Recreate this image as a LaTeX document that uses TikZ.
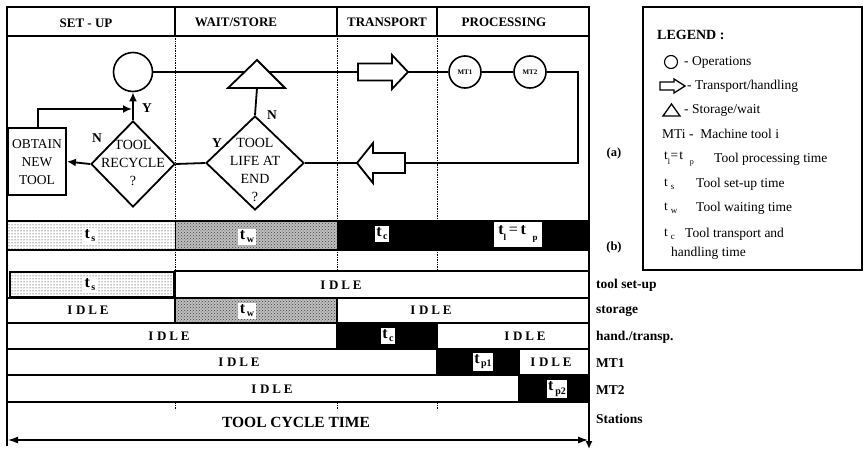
\documentclass[tikz,border=0pt]{standalone}
\usepackage{fontspec}
\setmainfont{Liberation Serif}
\usetikzlibrary{arrows.meta,patterns,shapes.geometric}

% "t" with a lowered bold index
\newcommand\tsb[1]{{\fontsize{16}{16}\selectfont\bfseries t}\kern1.5pt\raisebox{-3pt}{\fontsize{10}{10}\selectfont\bfseries #1}}
\newcommand\tlg[1]{t\kern3pt\raisebox{-3pt}{\fontsize{9}{9}\selectfont #1}}
% spaced IDLE label
\newcommand\idl{I\hspace{0.28em}D\hspace{0.22em}L\hspace{0.22em}E}

\begin{document}
\begin{tikzpicture}[x=1pt,y=-1pt,
  frame/.style={line width=1.6pt},
  flow/.style={line width=1.8pt},
  guide/.style={densely dotted,line width=0.7pt},
  hdr/.style={font=\fontsize{13}{15}\selectfont\bfseries},
  fctext/.style={font=\fontsize{14}{18}\selectfont,align=center,inner sep=0},
  yn/.style={font=\fontsize{13.5}{14}\selectfont\bfseries,inner sep=0},
  barbox/.style={draw,line width=1.5pt},
  idlebox/.style={draw,fill=white,line width=1.5pt},
  lightdots/.style={pattern=dots,pattern color=black},
  idle/.style={font=\fontsize{13}{14}\selectfont\bfseries,inner sep=0},
  tag/.style={fill=white,inner sep=1.5pt},
  rowlab/.style={font=\fontsize{13.5}{15}\selectfont\bfseries,anchor=west,inner sep=0},
  legtext/.style={font=\fontsize{13.5}{15}\selectfont,anchor=west,inner sep=0},
  mt/.style={circle,draw,fill=white,line width=1.6pt,minimum size=32pt,inner sep=0,font=\fontsize{7}{8}\selectfont\bfseries}
]
\useasboundingbox (0,0) rectangle (868,450);
\fill[white] (0,0) rectangle (868,450);

% ---------- column guides ----------
\foreach \gx in {175,337,437}
  \draw[guide] (\gx,36) -- (\gx,410);

% ---------- header ----------
\draw[frame] (7,7) rectangle (589,36);
\foreach \gx in {175,337,437}
  \draw[frame] (\gx,7) -- (\gx,36);
\node[hdr] (hsetup) at (86,23) {SET - UP};
\node[hdr] (hwait) at (236,22) {WAIT/STORE};
\node[hdr] (htrans) at (387,22) {TRANSPORT};
\node[hdr] (hproc) at (504,22) {PROCESSING};

% ---------- outer frame and cycle arrow ----------
\draw[frame] (7,36) -- (7,446);
\draw[frame,-{Latex[length=8pt,width=7pt]}] (589,36) -- (589,449);
\coordinate (cl) at (8,440);
\coordinate (cr) at (588,440);
\draw[line width=1.2pt,{Latex[length=10pt,width=7pt]}-{Latex[length=10pt,width=7pt]}] (cl) -- (cr);

% ---------- flow chart ----------
\node[circle,draw,fill=white,line width=1.6pt,minimum size=39pt,inner sep=0] (op) at (133,72) {};
\node[mt] (mt1) at (465,72) {MT1};
\node[mt] (mt2) at (530,72) {MT2};
\node[diamond,draw,line width=1.8pt,minimum width=84pt,minimum height=86pt,inner sep=0] (rec) at (133,164) {};
\node[diamond,draw,line width=1.8pt,minimum width=98pt,minimum height=94pt,inner sep=0] (life) at (255,163) {};
\node[draw,line width=1.8pt,minimum width=58pt,minimum height=67pt,inner sep=0] (obt) at (37,161.5) {};

\coordinate (triB) at (257,88);
\coordinate (fwdW) at (358,72);
\coordinate (fwdE) at (408,72);
\coordinate (bkW) at (357,163);
\coordinate (bkE) at (405,163);
\coordinate (lp1) at (578,72);
\coordinate (lp2) at (578,163);
\coordinate (jn) at (132,109);

% connectors
\draw[flow] (op.east) -- (fwdW);
\draw[flow] (fwdE) -- (mt1.west);
\draw[flow] (mt1.east) -- (mt2.west);
\draw[flow] (mt2.east) -- (lp1) -- (lp2) -- (bkE);
\draw[flow] (bkW) -- (life.east);
\draw[flow] (life.west) -- (rec.east);
\draw[flow] (life.north) -- (triB);
\draw[flow,-{Latex[length=9pt,width=8pt]}] (rec.north) -- (op.south);
\draw[flow,-{Latex[length=9pt,width=8pt]}] (rec.west) -- (obt.east);
\draw[flow,-{Latex[length=9pt,width=8pt]}] (obt.north -| 38,0) |- (jn);

% storage triangle and transport arrows
\draw[line width=1.8pt,fill=white] (257,60) -- (285,88) -- (228,88) -- cycle;
\draw[line width=1.8pt,fill=white] (358,63.5) -- (392,63.5) -- (392,55) -- (408,72) -- (392,89) -- (392,80.5) -- (358,80.5) -- cycle;
\draw[line width=1.8pt,fill=white] (405,153) -- (373,153) -- (373,143) -- (357,163) -- (373,183) -- (373,173) -- (405,173) -- cycle;

% flow chart texts
\node[fctext] (rectxt) at (133,163) {TOOL\\RECYCLE\\?};
\node[fctext] (lifetxt) at (255,170) {TOOL\\LIFE AT\\END\\?};
\node[fctext,font=\fontsize{13.5}{18}\selectfont] (obttxt) at (37,162) {OBTAIN\\NEW\\TOOL};
\node[yn] (y1) at (147,108) {Y};
\node[yn] (n1) at (97,138) {N};
\node[yn] (y2) at (217,143) {Y};
\node[yn] (n2) at (272,115) {N};

% ---------- bar (b) ----------
\fill[white] (7,221) rectangle (589,250);
\path[lightdots] (7,221) rectangle (175,250);
\fill[gray!50] (175,221) rectangle (337,250);
\path[pattern=crosshatch dots,pattern color=black!75] (175,221) rectangle (337,250);
\fill[black] (337,221) rectangle (589,250);
\draw[barbox] (7,221) rectangle (589,250);
\draw[line width=1pt] (175,221) -- (175,250);
\node[tag] (bts) at (90,236) {\tsb{s}};
\node[tag] (btw) at (247,237) {\tsb{w}};
\node[tag] (btc) at (382,234) {\tsb{c}};
\node[tag,minimum width=48pt,minimum height=25pt] (btp) at (518,234) {{\fontsize{16}{16}\selectfont\bfseries t}\raisebox{-6pt}{\fontsize{9}{9}\selectfont\bfseries l}{\fontsize{16}{16}\selectfont\,=\,\bfseries t}\raisebox{-6pt}{\fontsize{9}{9}\selectfont\bfseries\ \ \ p}};

% ---------- station rows ----------
% tool set-up
\fill[white] (10,272) rectangle (174,297);
\path[lightdots] (10,272) rectangle (174,297);
\draw[barbox] (10,272) rectangle (174,297);
\draw[idlebox] (175,271) rectangle (589,298);
% storage
\draw[idlebox] (7,298) rectangle (175,323);
\fill[gray!50] (175,298) rectangle (337,323);
\path[pattern=crosshatch dots,pattern color=black!75] (175,298) rectangle (337,323);
\draw[barbox] (175,298) rectangle (337,323);
\draw[idlebox] (337,298) rectangle (589,323);
% handling / transport
\draw[idlebox] (7,323) rectangle (337,349);
\draw[barbox,fill=black] (337,323) rectangle (437,349);
\draw[idlebox] (437,323) rectangle (589,349);
% MT1
\draw[idlebox] (7,349) rectangle (437,375);
\draw[barbox,fill=black] (437,349) rectangle (519,375);
\draw[idlebox] (519,349) rectangle (589,375);
% MT2
\draw[idlebox] (7,375) rectangle (519,402);
\draw[barbox,fill=black] (519,375) rectangle (589,402);

\node[tag] (sts) at (90,285) {\tsb{s}};
\node[idle] (i1) at (341,285) {\idl};
\node[idle] (i2) at (88,310) {\idl};
\node[tag] (stw) at (247,311) {\tsb{w}};
\node[idle] (i3) at (431,310) {\idl};
\node[idle] (i4) at (169,336) {\idl};
\node[tag] (stc) at (388,336) {\tsb{c}};
\node[idle] (i5) at (525,336) {\idl};
\node[idle] (i6) at (239,362) {\idl};
\node[tag] (sp1) at (483,362) {\tsb{p1}};
\node[idle] (i7) at (551,362) {\idl};
\node[idle] (i8) at (272,389) {\idl};
\node[tag] (sp2) at (557,389) {{\fontsize{16}{16}\selectfont\bfseries t}\kern2pt\raisebox{-4pt}{\fontsize{10}{10}\selectfont\bfseries p2}};

\node[font=\fontsize{15.5}{17}\selectfont\bfseries] (cyc) at (296,422) {TOOL CYCLE TIME};

% ---------- row labels ----------
\node[font=\fontsize{12.5}{13}\selectfont\bfseries] (la) at (614,153) {(a)};
\node[font=\fontsize{12.5}{13}\selectfont\bfseries] (lb) at (614,247) {(b)};
\node[rowlab] (r1) at (596,285) {tool set-up};
\node[rowlab] (r2) at (596,311) {storage};
\node[rowlab] (r3) at (596,337) {hand./transp.};
\node[rowlab] (r4) at (596,363) {MT1};
\node[rowlab] (r5) at (596,390) {MT2};
\node[rowlab] (r6) at (596,419) {Stations};

% ---------- legend ----------
\draw[line width=1.5pt] (643,7) rectangle (862,270);
\node[legtext,font=\fontsize{14}{15}\selectfont\bfseries] (lg0) at (657,35) {LEGEND :};
\node[circle,draw,line width=1.1pt,minimum size=13pt,inner sep=0] (lgc) at (671,62) {};
\node[legtext] (lg1) at (684,62) {- Operations};
\draw[line width=1.3pt] (660,82) -- (674,82) -- (674,79) -- (685,86) -- (674,93) -- (674,90) -- (660,90) -- cycle;
\node[legtext] (lg2) at (687,86) {- Transport/handling};
\draw[line width=1.3pt] (663,116) -- (680,116) -- (671.5,104) -- cycle;
\node[legtext] (lg3) at (684,110) {- Storage/wait};
\node[legtext] (lg4) at (662,134) {MTi -\ \ Machine tool i};
\node[legtext] (lg5a) at (664,159) {t\raisebox{-5pt}{\fontsize{8}{8}\selectfont l}\kern0.5pt=\kern1pt t\ \ \raisebox{-5pt}{\fontsize{8}{8}\selectfont p}};
\node[legtext] (lg5) at (714,159) {Tool processing time};
\node[legtext] (lg6a) at (664,184) {\tlg{s}};
\node[legtext] (lg6) at (696,184) {Tool set-up time};
\node[legtext] (lg7a) at (664,208) {\tlg{w}};
\node[legtext] (lg7) at (696,208) {Tool waiting time};
\node[legtext] (lg8a) at (664,234) {\tlg{c}};
\node[legtext] (lg8) at (685,234) {Tool transport and};
\node[legtext] (lg9) at (671,253) {handling time};
\end{tikzpicture}
\end{document}
